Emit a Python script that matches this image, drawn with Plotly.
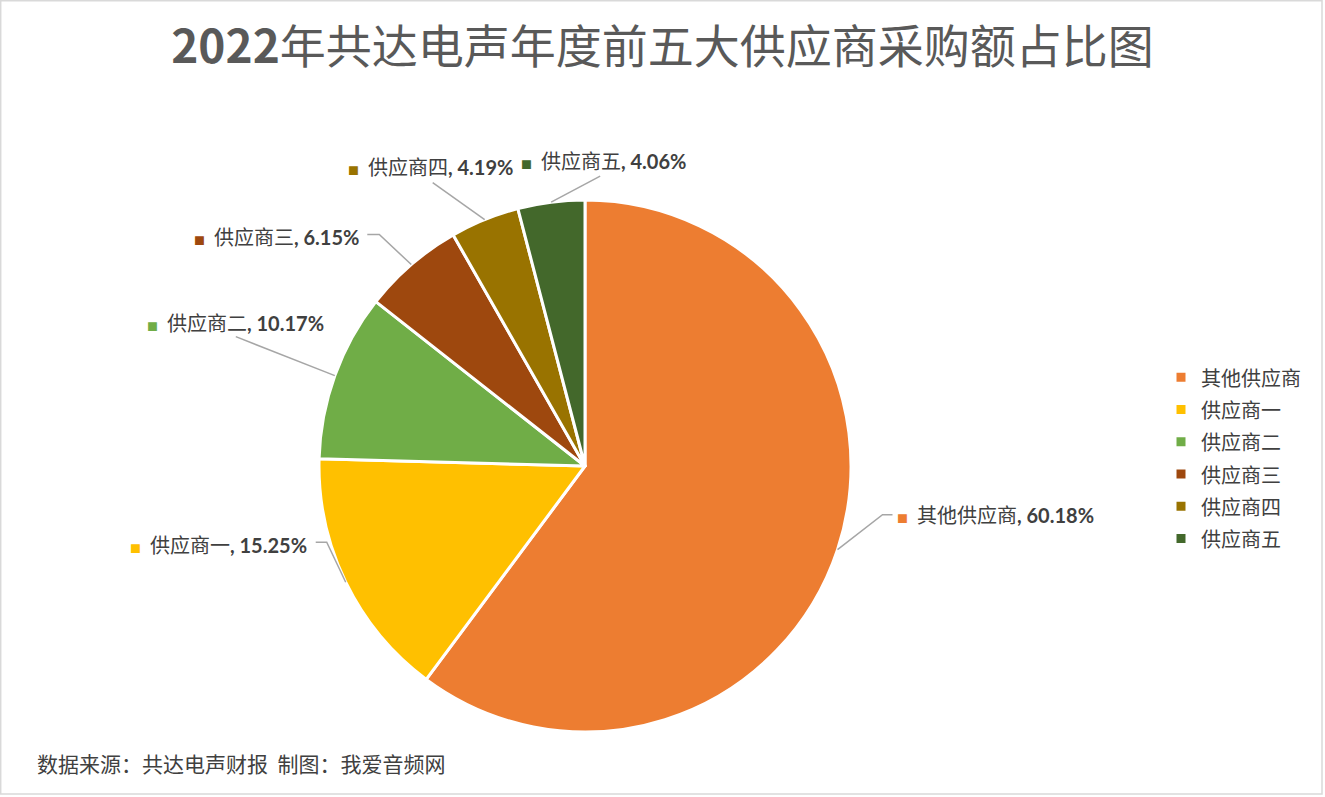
import math
import plotly.graph_objects as go

# ---------------- data ----------------
categories = ["其他供应商", "供应商一", "供应商二", "供应商三", "供应商四", "供应商五"]
shares = [60.18, 15.25, 10.17, 6.15, 4.19, 4.06]
colors = ["#ED7D31", "#FFC000", "#70AD47", "#9E480E", "#997300", "#43682B"]

title_text = "<b>2022</b>年共达电声年度前五大供应商采购额占比图"
source_text = "数据来源：共达电声财报  制图：我爱音频网"

# ---------------- layout constants ----------------
W, H = 1325, 797
CX, CY, R = 585, 466, 266          # pie centre / radius in pixels

# per-label leader layout: elbow offset from slice edge, tail length,
# label offset from elbow, label anchor
label_layout = [
    dict(elbow=(45, -35), tail=10, lab=(12, 0), anchor="left"),
    dict(elbow=(-19, -40), tail=-11, lab=(-18, 2), anchor="right"),
    dict(elbow=(-99, -39), tail=0, lab=(90, -14), anchor="right"),
    dict(elbow=(-32, -30), tail=-12, lab=(-18, 2), anchor="right"),
    dict(elbow=(-52, -37), tail=0, lab=(82, -16), anchor="right"),
    dict(elbow=(49, -26), tail=0, lab=(-81, -16), anchor="left"),
]


def px(x):
    return x / W


def py(y):
    return 1 - y / H


fig = go.Figure()
fig.add_trace(go.Pie(
    labels=[f"<span style='font-size:20px'>{c}</span>" for c in categories],
    values=shares,
    sort=False,
    direction="clockwise",
    rotation=0,
    marker=dict(colors=colors, line=dict(color="white", width=3)),
    textinfo="none",
    hoverinfo="label+percent",
    domain=dict(x=[px(CX - R), px(CX + R)], y=[py(CY + R), py(CY - R)]),
))

shapes = []
annotations = []
total = sum(shares)
cum = 0.0
for name, v, col, lay in zip(categories, shares, colors, label_layout):
    mid = 2 * math.pi * (cum + v / 2) / total
    cum += v
    ex = CX + R * math.sin(mid)
    ey = CY - R * math.cos(mid)
    bx = ex + lay["elbow"][0]
    by = ey + lay["elbow"][1]
    tx = bx + lay["tail"]
    path = f"M {px(ex)},{py(ey)} L {px(bx)},{py(by)} L {px(tx)},{py(by)}"
    shapes.append(dict(type="path", path=path, xref="paper", yref="paper",
                       line=dict(color="#A6A6A6", width=1.5)))
    lx = bx + lay["lab"][0]
    ly = by + lay["lab"][1]
    txt = (f"<span style='color:{col};font-size:11px'>■</span>  {name}"
           f"<span style='font-family:Lato'><b>, {v:.2f}%</b></span>")
    annotations.append(dict(text=txt, x=px(lx), y=py(ly), xref="paper", yref="paper",
                            xanchor=lay["anchor"], yanchor="middle", showarrow=False,
                            font=dict(family="Noto Sans CJK SC", size=20, color="#404040")))

annotations.append(dict(text=source_text, x=px(35), y=py(763), xref="paper", yref="paper",
                        xanchor="left", yanchor="middle", showarrow=False,
                        font=dict(family="Noto Sans CJK SC", size=21, color="#404040")))

# chart border
shapes.append(dict(type="rect", xref="paper", yref="paper",
                   x0=px(0.7), x1=px(1322), y0=py(794), y1=py(0.7),
                   line=dict(color="#D9D9D9", width=1.5)))

fig.update_layout(
    width=W, height=H,
    margin=dict(l=0, r=0, t=0, b=0),
    paper_bgcolor="white",
    plot_bgcolor="white",
    title=dict(text=title_text, x=0.5, xanchor="center", y=py(47), yanchor="middle",
               font=dict(family="Noto Sans CJK SC", size=46, color="#595959")),
    legend=dict(x=px(1161), xanchor="left", y=py(458), yanchor="middle",
                font=dict(family="Noto Sans CJK SC", size=22.5, color="#404040"),
                bgcolor="rgba(0,0,0,0)"),
    shapes=shapes,
    annotations=annotations,
)

fig.write_html("out.html")
